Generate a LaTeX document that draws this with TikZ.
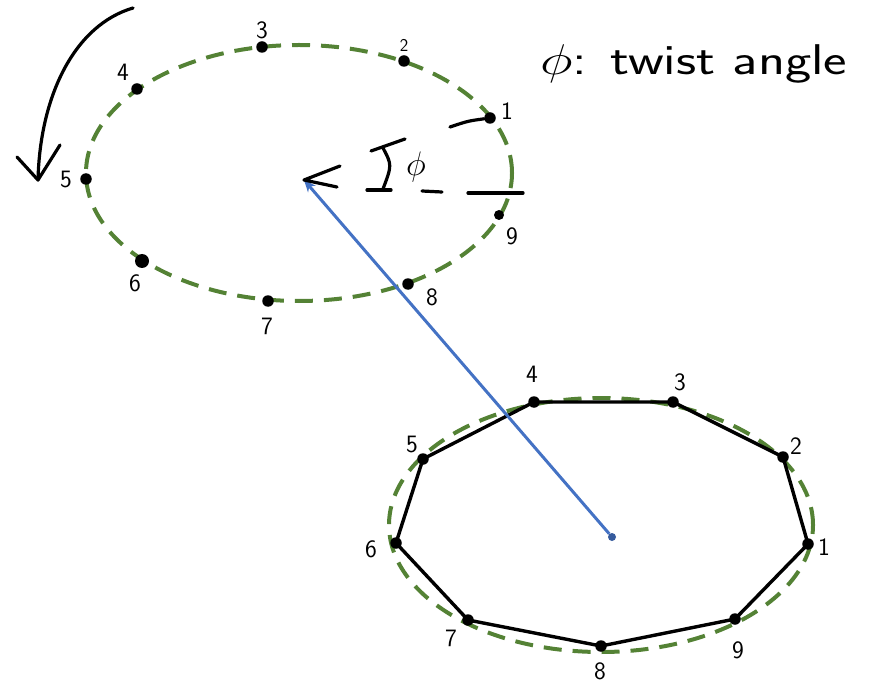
\RequirePackage{fix-cm}
\documentclass[tikz,border=0pt]{standalone}
\usetikzlibrary{arrows.meta}
\definecolor{dgreen}{RGB}{84,130,53}
\definecolor{ablue}{RGB}{68,114,196}
\begin{document}
\begin{tikzpicture}[x=1pt,y=-1pt,
  ring/.style={draw=dgreen,line width=4pt,dash pattern=on 18pt off 11pt},
  dot/.style={circle,fill=black,inner sep=0pt,minimum size=11.5pt},
  num/.style={font=\sffamily\fontsize{25}{25}\selectfont,inner sep=0pt},
  ink/.style={line width=3.2pt,line cap=round,line join=round},
  poly/.style={line width=3.4pt,line join=round}]
\useasboundingbox (0,0) rectangle (874,684);
% top ellipse
\draw[ring] (299,173) ellipse [x radius=213pt, y radius=128pt];
\node[dot] (t1) at (490,118) {};
\node[dot] (t2) at (404,61) {};
\node[dot] (t3) at (262,47) {};
\node[dot] (t4) at (137,89) {};
\node[dot] (t5) at (86,179) {};
\node[dot,minimum size=14pt] (t6) at (142,261) {};
\node[dot] (t7) at (268,301) {};
\node[dot] (t8) at (408,284) {};
\node[dot,minimum size=10pt] (t9) at (499,215) {};
\node[num] (lt1) at (507,111) {1};
\node[num,font=\sffamily\fontsize{18}{18}\selectfont] (lt2) at (404,45) {2};
\node[num] (lt3) at (262,30) {3};
\node[num] (lt4) at (123,72) {4};
\node[num] (lt5) at (66,180) {5};
\node[num] (lt6) at (135,283) {6};
\node[num] (lt7) at (267,326) {7};
\node[num] (lt8) at (432,297) {8};
\node[num] (lt9) at (512,236) {9};
% bottom ellipse and polygon
\draw[ring] (601,525) ellipse [x radius=212pt, y radius=127pt];
\coordinate (b1) at (808,544);
\coordinate (b2) at (783,457);
\coordinate (b3) at (673,402);
\coordinate (b4) at (534,402);
\coordinate (b5) at (423,459);
\coordinate (b6) at (396,543);
\coordinate (b7) at (468,620);
\coordinate (b8) at (601,646);
\coordinate (b9) at (735,619);
\draw[poly] (b1) -- (b2) -- (b3) -- (b4) -- (b5) -- (b6) -- (b7) -- (b8) -- (b9) -- cycle;
\foreach \i in {1,...,9} \node[dot] (d\i) at (b\i) {};
\node[num] (lb1) at (824,547) {1};
\node[num] (lb2) at (796,446) {2};
\node[num] (lb3) at (680,382) {3};
\node[num] (lb4) at (532,374) {4};
\node[num] (lb5) at (412,444) {5};
\node[num] (lb6) at (371,549) {6};
\node[num] (lb7) at (451,638) {7};
\node[num] (lb8) at (600,671) {8};
\node[num] (lb9) at (738,650) {9};
% centres and blue arrow
\coordinate (tc) at (304,180);
\node[circle,fill=ablue!80!black,inner sep=0pt,minimum size=8pt] (bc) at (612,537) {};
\draw[ablue,line width=3pt,-{Stealth[length=12pt,width=10pt]}] (bc) -- (tc);
% hand-drawn angle marks
\coordinate (lu) at (340,166);
\coordinate (ll) at (337,187);
\draw[ink] (lu) -- (tc) -- (ll);
\coordinate (i1) at (371,151);
\coordinate (i2) at (405,139);
\coordinate (i3) at (383,148);
\coordinate (i4) at (383,189);
\coordinate (i5) at (367,190);
\coordinate (i6) at (391,190);
\draw[ink] (i1) -- (i2);
\draw[ink] (i3) .. controls (392,165) .. (i4);
\draw[ink] (i5) -- (i6);
\node[font=\fontsize{34}{34}\selectfont,inner sep=0pt] (phi) at (416,167) {$\phi$};
\coordinate (d1a) at (422,191);
\coordinate (d1b) at (442,192);
\draw[ink] (d1a) -- (d1b);
\coordinate (d2a) at (468,193);
\coordinate (d2b) at (523,193);
\draw[ink] (d2a) -- (d2b);
\coordinate (c1) at (450,127);
\draw[ink] (c1) .. controls (468,121) .. (t1);
% rotation arrow
\coordinate (ra) at (133,8);
\coordinate (rb) at (38,180);
\coordinate (rl) at (17,157);
\coordinate (rr) at (60,145);
\draw[ink] (ra) .. controls (75,25) and (40,95) .. (rb);
\draw[ink] (rl) -- (rb) -- (rr);
% title
\node[anchor=west,inner sep=0pt,font=\sffamily\fontsize{43}{43}\selectfont] (title) at (540,64) {\scalebox{1.3}[1]{$\phi$: twist angle}};
\end{tikzpicture}
\end{document}
